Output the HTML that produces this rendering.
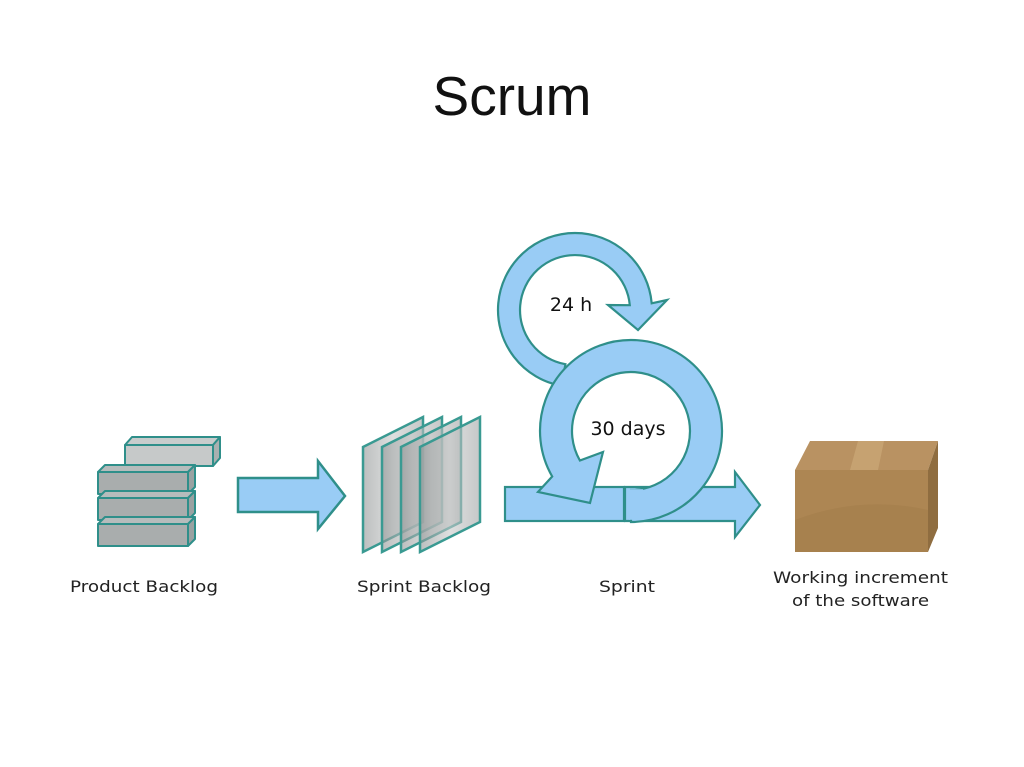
<!DOCTYPE html>
<html><head><meta charset="utf-8"><style>
html,body{margin:0;padding:0;background:#fff;}
svg{display:block;}
</style></head><body>
<svg width="1024" height="767" viewBox="0 0 1024 767" xmlns="http://www.w3.org/2000/svg">
<defs>
<linearGradient id="g" x1="0" y1="0" x2="1" y2="0">
<stop offset="0" stop-color="#8f9494"/><stop offset="0.5" stop-color="#c8caca"/><stop offset="1" stop-color="#a0a4a4"/>
</linearGradient>
</defs>
<rect width="1024" height="767" fill="#fff"/>
<text x="512" y="115" text-anchor="middle" font-family="Liberation Sans, sans-serif" font-size="55" fill="#111">Scrum</text>

<g stroke="#2f8f8a" stroke-width="2" stroke-linejoin="round">
<polygon points="125,445 132,437 220,437 213,445" fill="#c8cccc"/>
<polygon points="213,445 220,437 220,458 213,466" fill="#a9b0b0"/>
<rect x="125" y="445" width="88" height="21" fill="#c6c9c9"/>
<polygon points="98,472 105,465 195,465 188,472" fill="#b6bcbc"/>
<polygon points="188,472 195,465 195,487 188,494" fill="#9aa2a2"/>
<rect x="98" y="472" width="90" height="22" fill="#a9adad"/>
<polygon points="98,498 105,491 195,491 188,498" fill="#b6bcbc"/>
<polygon points="188,498 195,491 195,513 188,520" fill="#9aa2a2"/>
<rect x="98" y="498" width="90" height="22" fill="#a9adad"/>
<polygon points="98,524 105,517 195,517 188,524" fill="#b6bcbc"/>
<polygon points="188,524 195,517 195,539 188,546" fill="#9aa2a2"/>
<rect x="98" y="524" width="90" height="22" fill="#a9adad"/>
</g>

<polygon points="238,478 318,478 318,461 345,496 318,529 318,512 238,512" fill="#99ccf5" stroke="#2f8f8a" stroke-width="2.5"/>

<g stroke="#3a9a92" stroke-width="2.5" fill="url(#g)" fill-opacity="0.6">
<polygon points="363,447 423,417 423,522 363,552"/>
<polygon points="382,447 442,417 442,522 382,552"/>
<polygon points="401,447 461,417 461,522 401,552"/>
<polygon points="420,447 480,417 480,522 420,552"/>
</g>

<g fill="#99ccf5" stroke="#2f8f8a" stroke-width="2.2">
<path d="M561.6,385.8 A77,77 0 1,1 651.7,303.3 L667,300 L638,330 L608,305 L629.8,305.2 A55,55 0 1,0 565.4,364.2 Z"/>
<rect x="505" y="487" width="119" height="34"/>
<polygon points="625,487 735,487 735,472 760,505 735,537 735,521 625,521"/>
<path d="M631,522 A91,91 0 1,0 552.2,476.5 L538,492 L590,503 L603,452 L579.9,460.5 A59,59 0 1,1 631,490 Z"/>
</g>
<rect x="629" y="489.2" width="14" height="30.6" fill="#99ccf5"/>
<text x="571" y="311" text-anchor="middle" font-family="DejaVu Sans, sans-serif" font-size="19" fill="#111">24 h</text>
<text x="628" y="435" text-anchor="middle" font-family="DejaVu Sans, sans-serif" font-size="19" fill="#111">30 days</text>

<polygon points="795,470 810,441 938,441 928,470" fill="#b99262"/>
<polygon points="850,470 858,441 884,441 878,470" fill="#c9a676" opacity="0.8"/>
<rect x="795" y="470" width="133" height="82" fill="#ad8653"/>
<path d="M795,520 Q860,495 928,510 L928,552 L795,552 Z" fill="#a27c4a" opacity="0.5"/>
<polygon points="928,470 938,441 938,528 928,552" fill="#8f6d40"/>

<g font-family="DejaVu Sans, sans-serif" font-size="16" fill="#222">
<text x="70" y="592" textLength="148" lengthAdjust="spacingAndGlyphs">Product Backlog</text>
<text x="357" y="592" textLength="134" lengthAdjust="spacingAndGlyphs">Sprint Backlog</text>
<text x="599" y="592" textLength="56" lengthAdjust="spacingAndGlyphs">Sprint</text>
<text x="773" y="583" textLength="175" lengthAdjust="spacingAndGlyphs">Working increment</text>
<text x="792" y="606" textLength="137" lengthAdjust="spacingAndGlyphs">of the software</text>
</g>
</svg>
</body></html>
